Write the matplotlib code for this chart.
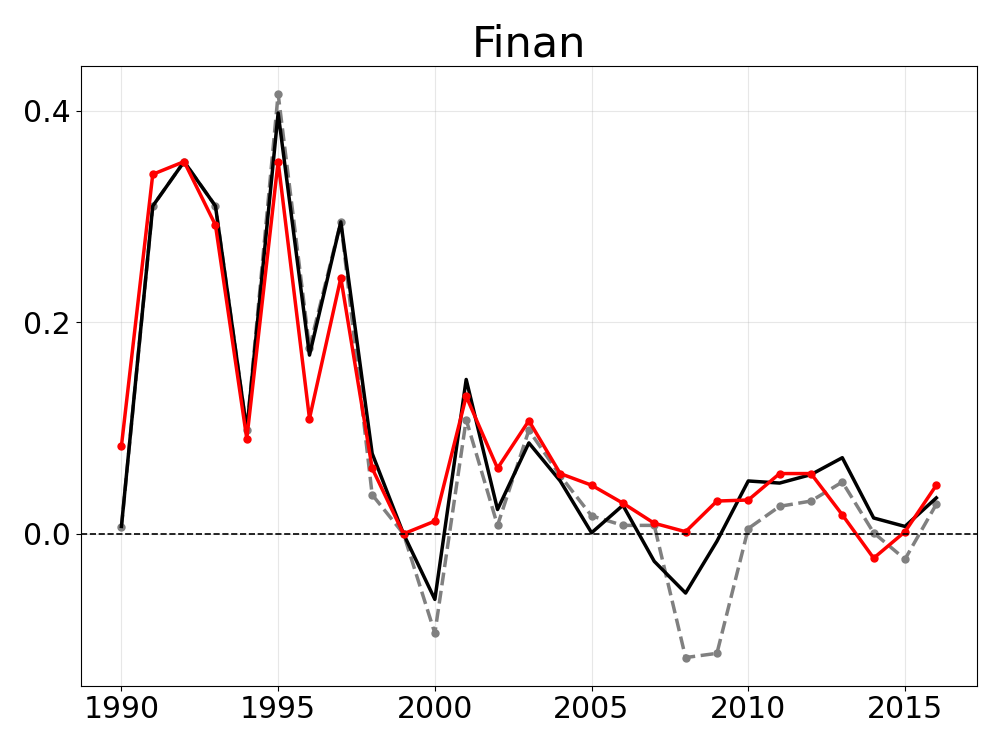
import numpy as np
import matplotlib
matplotlib.use("Agg")
import matplotlib.pyplot as plt

years = np.arange(1990, 2017)

# solid black line (no markers)
actual = [0.007, 0.310, 0.352, 0.310, 0.098, 0.398, 0.169, 0.295, 0.076, 0.000,
          -0.062, 0.146, 0.023, 0.086, 0.050, 0.001, 0.027, -0.026, -0.056, -0.007,
          0.050, 0.048, 0.056, 0.072, 0.015, 0.007, 0.034]

# grey dashed line with dots
model_a = [0.006, 0.310, 0.352, 0.310, 0.098, 0.416, 0.176, 0.295, 0.037, 0.000,
           -0.094, 0.108, 0.008, 0.098, 0.055, 0.017, 0.008, 0.008, -0.117, -0.113,
           0.005, 0.026, 0.031, 0.049, 0.001, -0.024, 0.028]

# red line with dots
model_b = [0.083, 0.340, 0.352, 0.292, 0.090, 0.352, 0.109, 0.242, 0.062, 0.000,
           0.012, 0.130, 0.062, 0.107, 0.057, 0.046, 0.029, 0.010, 0.002, 0.031,
           0.032, 0.057, 0.057, 0.018, -0.023, 0.002, 0.046]

fig, ax = plt.subplots(figsize=(9.96, 7.47), dpi=100)

ax.plot(years, model_a, color='gray', linestyle='--', linewidth=2.5, marker='o', markersize=5)
ax.plot(years, actual, color='black', linewidth=2.5)
ax.plot(years, model_b, color='red', linewidth=2.5, marker='o', markersize=5)
ax.axhline(0, color='black', linestyle='--', linewidth=1.2)

ax.grid(True, alpha=0.3)
ax.set_title("Finan", fontsize=31)
ax.tick_params(labelsize=21.5)
ax.set_xticks([1990, 1995, 2000, 2005, 2010, 2015])
ax.set_yticks([0.0, 0.2, 0.4])

fig.subplots_adjust(left=0.081, right=0.981, top=0.912, bottom=0.082)
fig.savefig("out.png", dpi=100)
